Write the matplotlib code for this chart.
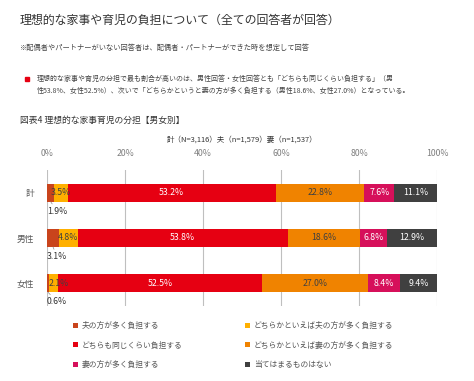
import matplotlib
matplotlib.use('Agg')
import matplotlib.pyplot as plt
from matplotlib.patches import Rectangle

plt.rcParams['font.family'] = ['Noto Sans CJK JP', 'DejaVu Sans']

# データ
categories = ['計', '男性', '女性']
series_names = ['夫の方が多く負担する', 'どちらかといえば夫の方が多く負担する',
                'どちらも同じくらい負担する', 'どちらかといえば妻の方が多く負担する',
                '妻の方が多く負担する', '当てはまるものはない']
values = [
    [1.9, 3.5, 53.2, 22.8, 7.6, 11.1],
    [3.1, 4.8, 53.8, 18.6, 6.8, 12.9],
    [0.6, 2.1, 52.5, 27.0, 8.4, 9.4],
]
colors = ['#C9441C', '#FFB000', '#E60012', '#F08300', '#D6105A', '#404040']
text_colors = [None, '#404040', 'white', '#404040', 'white', 'white']
tick_vals = [0, 20, 40, 60, 80, 100]

fig = plt.figure(figsize=(4.74, 3.81), dpi=100)
W, H = 474, 381

def fy(py):
    return 1 - py / H

# 見出し
fig.text(20 / W, fy(20), '理想的な家事や育児の負担について（全ての回答者が回答）',
         fontsize=8.6, color='#333333', va='center', ha='left')
fig.text(20 / W, fy(48), '※配偶者やパートナーがいない回答者は、配偶者・パートナーができた時を想定して回答',
         fontsize=5.2, color='#444444', va='center', ha='left')
fig.add_artist(Rectangle((25 / W, fy(81)), 4 / W, 4 / H, color='#E60012',
                         transform=fig.transFigure))
fig.text(37 / W, fy(79), '理想的な家事や育児の分担で最も割合が高いのは、男性回答・女性回答とも「どちらも同じくらい負担する」（男',
         fontsize=5.0, color='#444444', va='center', ha='left')
fig.text(37 / W, fy(91), '性53.8%、女性52.5%）、次いで「どちらかというと妻の方が多く負担する（男性18.6%、女性27.0%）となっている。',
         fontsize=5.0, color='#444444', va='center', ha='left')
fig.text(20 / W, fy(120), '図表4 理想的な家事育児の分担【男女別】',
         fontsize=6.3, color='#333333', va='center', ha='left')
fig.text(242 / W, fy(140), '計（N=3,116）夫（n=1,579）妻（n=1,537）',
         fontsize=5.4, color='#333333', va='center', ha='center')

# グラフ
ax = fig.add_axes([47 / W, fy(306), 390 / W, 136 / H])
ypos = list(range(len(categories)))
bar_h = 0.4
handles = []
for j, name in enumerate(series_names):
    seg = [row[j] for row in values]
    left = [sum(row[:j]) for row in values]
    bars = ax.barh(ypos, seg, left=left, height=bar_h, color=colors[j],
                   label=name, zorder=2)
    handles.append(bars)
    for i, (v, l) in enumerate(zip(seg, left)):
        if j == 0:
            ax.annotate(f'{v}%', xy=(l + v / 2, i + bar_h / 2), xytext=(0, i + 0.41),
                        fontsize=6.3, color='#333333', ha='left', va='center',
                        arrowprops=dict(arrowstyle='-', color='#888888', lw=0.5,
                                        shrinkA=0, shrinkB=0))
        else:
            cx = max(l + v / 2, 3.0)
            ax.text(cx, i, f'{v}%', fontsize=6.3, color=text_colors[j],
                    ha='center', va='center', zorder=3)

ax.set_xlim(0, 100)
ax.set_ylim(2.5, -0.5)
ax.set_yticks(ypos)
ax.set_yticklabels(categories, fontsize=6.3, color='#595959')
ax.set_xticks(tick_vals)
ax.set_xticklabels([f'{t}%' for t in tick_vals], fontsize=6.3, color='#7F7F7F')
ax.xaxis.tick_top()
ax.tick_params(axis='both', length=0)
ax.tick_params(axis='x', pad=9)
ax.tick_params(axis='y', pad=9)
ax.grid(axis='x', color='#BFBFBF', lw=0.8, zorder=0)
for s in ax.spines.values():
    s.set_visible(False)

# 凡例
col1 = [handles[0], handles[2], handles[4]]
col2 = [handles[1], handles[3], handles[5]]
for hs, x0 in [(col1, 73), (col2, 245)]:
    leg = fig.legend(handles=hs, labels=[h.get_label() for h in hs],
                     loc='upper left', bbox_to_anchor=(x0 / W, fy(322)),
                     frameon=False, fontsize=5.6, handlelength=0.6, handleheight=0.6,
                     handletextpad=0.5, labelspacing=1.45, borderaxespad=0,
                     borderpad=0)
    for t in leg.get_texts():
        t.set_color('#555555')

fig.savefig('out.png', dpi=100)
